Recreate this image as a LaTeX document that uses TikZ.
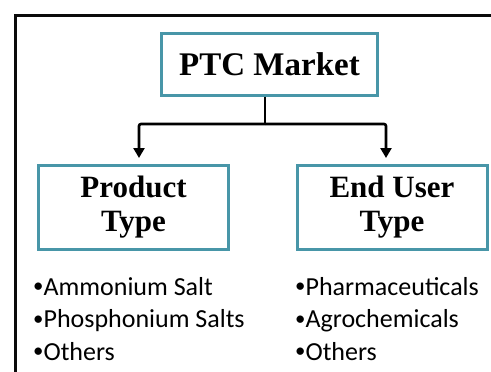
\documentclass[tikz,border=0pt]{standalone}
\usepackage{fontspec}
\setmainfont{Liberation Serif}
\newfontfamily\listfont{Carlito}
\usepackage{xcolor}
\definecolor{boxteal}{RGB}{72,150,168}
\definecolor{framegray}{RGB}{10,10,10}
\usepackage{tikz}
\usetikzlibrary{positioning,arrows.meta,calc}
\newcommand{\itembul}{\raisebox{0.08em}{\scalebox{0.8}{•}}}
\tikzset{
  headbox/.style={rectangle,draw=boxteal,line width=3pt,fill=white,
    text=black,align=center,font=\fontsize{33}{38}\selectfont\bfseries,
    minimum width=216pt,minimum height=62pt,inner sep=2pt},
  catbox/.style={rectangle,draw=boxteal,line width=3pt,fill=white,
    text=black,align=center,font=\fontsize{31}{34}\selectfont\bfseries,
    minimum width=190pt,minimum height=84pt,inner sep=2pt},
  itemtext/.style={anchor=base west,inner sep=0pt,
    font=\listfont\fontsize{26}{30}\selectfont},
  conn/.style={-{Triangle[length=10pt,width=11pt]},draw=black,
    line width=2.6pt,rounded corners=2pt},
}

\begin{document}
\begin{tikzpicture}[x=1pt,y=-1pt]
  \useasboundingbox (0,0) rectangle (491,372);
  % --- frame ---
  \draw[framegray,line width=3pt] (15,372) -- (15,15) -- (491,15);
  % --- boxes ---
  \node[headbox] (mkt)  at (269.5,64)  {PTC Market};
  \node[catbox]  (prod) at (133.5,207.5) {Product\\Type};
  \node[catbox]  (endu) at (392,207.5)   {End User\\Type};
  % --- items ---
  \foreach \name/\y/\lab in {pa/295/Ammonium Salt,pb/327.5/Phosphonium Salts,pc/360/Others}{
    \node[itemtext] (\name) at (33,\y) {\itembul\lab};}
  \foreach \name/\y/\lab in {ea/295/Pharmaceuticals,eb/327.5/Agrochemicals,ec/360/Others}{
    \node[itemtext] (\name) at (295,\y) {\itembul\lab};}
  % --- connectors ---
  \coordinate (split) at (265,124);
  \draw[line width=2.6pt] (mkt.south -| split) -- (split);
  \draw[conn,shorten >=6pt] (split) -| ([xshift=5.5pt]prod.north);
  \draw[conn,shorten >=6pt] (split) -| ([xshift=-6pt]endu.north);
\end{tikzpicture}
\end{document}
